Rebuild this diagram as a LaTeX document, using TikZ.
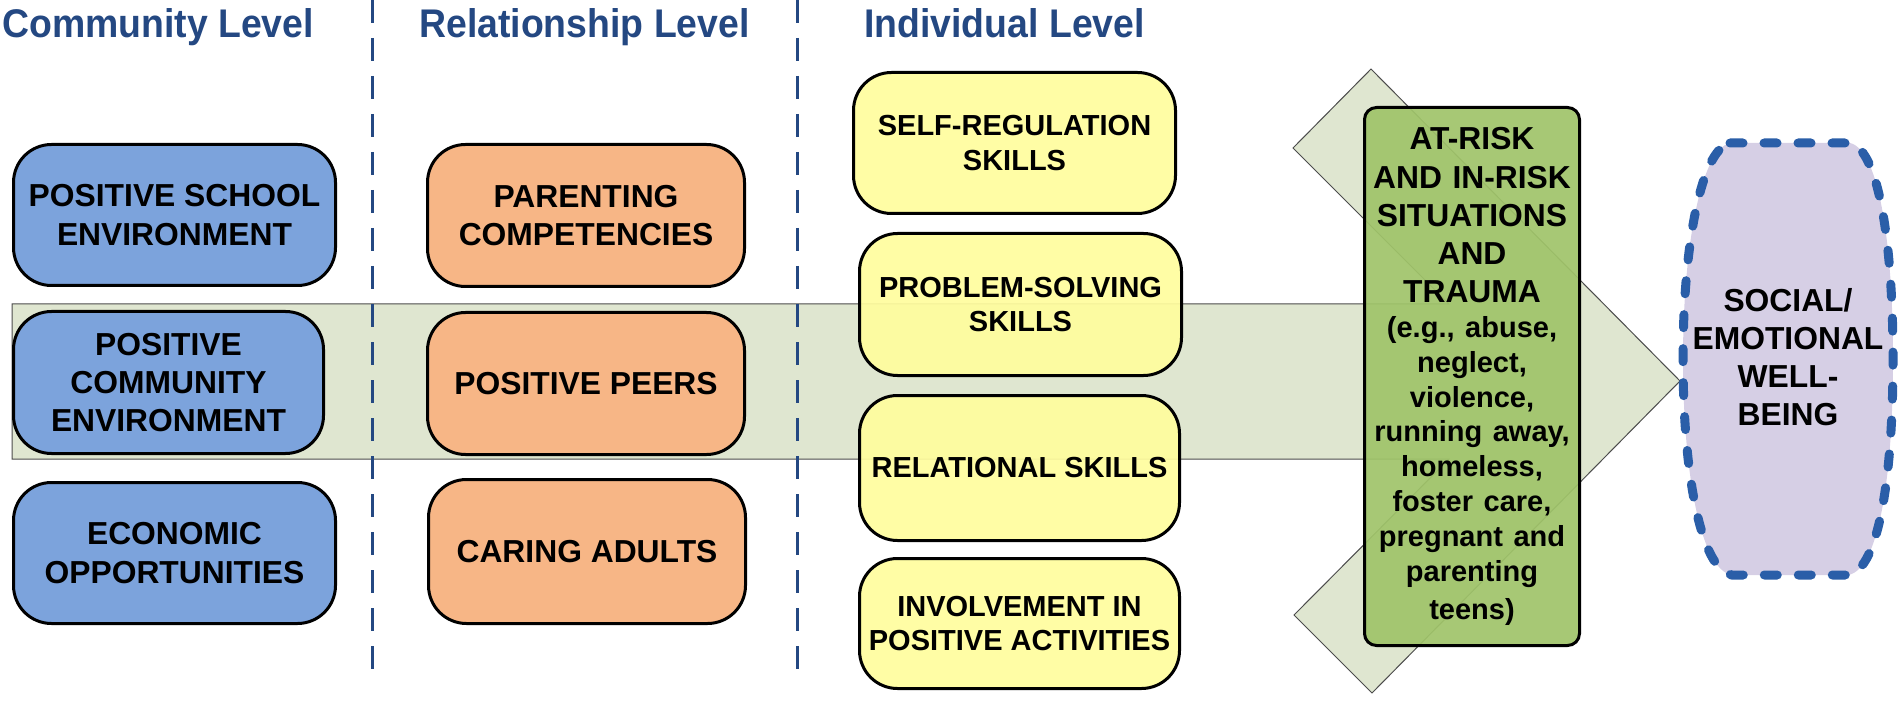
\documentclass[tikz,border=0pt]{standalone}
\usepackage{fontspec}
\setmainfont{Liberation Sans}
\newfontfamily\titlefont[FakeStretch=0.935]{Liberation Sans}
\usetikzlibrary{positioning}

\definecolor{titleblue}{RGB}{36,72,130}
\definecolor{commblue}{RGB}{124,163,220}
\definecolor{relorange}{RGB}{247,182,134}
\definecolor{indyellow}{RGB}{255,253,158}
\definecolor{riskgreen}{RGB}{160,196,106}
\definecolor{shaftgreen}{RGB}{223,230,208}
\definecolor{wellpurple}{RGB}{214,207,229}
\definecolor{wellblue}{RGB}{42,94,168}

\newcommand{\bigboxfont}{\bfseries\fontsize{31.8}{38.2}\selectfont}
\newcommand{\smallboxfont}{\bfseries\fontsize{29}{34.8}\selectfont}

\begin{document}
\begin{tikzpicture}[x=1pt, y=-1pt,
    levelbox/.style={draw=black, line width=3pt, rounded corners=38pt, align=center, inner sep=0pt},
    commbox/.style={levelbox, fill=commblue, font=\bigboxfont},
    relbox/.style={levelbox, fill=relorange, font=\bigboxfont},
    indbox/.style={levelbox, fill=indyellow, fill opacity=0.93, text opacity=1, font=\smallboxfont},
    riskbox/.style={levelbox, rounded corners=12pt, fill=riskgreen, fill opacity=0.93, text opacity=1, font=\bigboxfont},
    leveltitle/.style={anchor=base west, inner sep=0pt, text=titleblue, font=\titlefont\bfseries\fontsize{40}{40}\selectfont},
    divider/.style={titleblue, line width=3pt, dash pattern=on 23pt off 15pt}]
    \useasboundingbox (0,0) rectangle (1898,703);

    % Big arrow behind everything
    \draw[draw=black!70, fill=shaftgreen, line width=1pt] (12,304) -- (1449,304) -- (1293,148) -- (1371,69)
        -- (1680,381) -- (1372,693) -- (1294,615) -- (1449,459) -- (12,459) -- cycle;

    % Community level
    \node[commbox, minimum width=322pt, minimum height=141pt] (comm1) at (174.5,215) {POSITIVE SCHOOL\\ENVIRONMENT};
    \node[commbox, minimum width=310pt, minimum height=142pt] (comm2) at (168.5,382.5) {POSITIVE\\COMMUNITY\\ENVIRONMENT};
    \node[commbox, minimum width=322pt, minimum height=141pt] (comm3) at (174.5,553) {ECONOMIC\\OPPORTUNITIES};

    % Relationship level
    \node[relbox, minimum width=317pt, minimum height=142pt] (rel1) at (586,215.5) {PARENTING\\COMPETENCIES};
    \node[relbox, minimum width=317pt, minimum height=142pt] (rel2) at (586,383.5) {POSITIVE PEERS};
    \node[relbox, minimum width=317pt, minimum height=144pt] (rel3) at (587,551.5) {CARING ADULTS};

    % Individual level
    \node[indbox, minimum width=322pt, minimum height=141pt] (ind1) at (1014.5,143) {SELF-REGULATION\\SKILLS};
    \node[indbox, minimum width=322pt, minimum height=142pt] (ind2) at (1020.5,304.5) {PROBLEM-SOLVING\\SKILLS};
    \node[indbox, minimum width=320pt, minimum height=145pt] (ind3) at (1019.5,468) {RELATIONAL SKILLS};
    \node[indbox, minimum width=320pt, minimum height=130pt] (ind4) at (1019.5,623.5) {INVOLVEMENT IN\\POSITIVE ACTIVITIES};

    % Dashed dividers between the levels
    \foreach \x in {372,797} {
        \draw[divider] (\x,0) -- (\x,672);
    }

    % Risk box on the arrow head
    \node[riskbox, minimum width=215pt, minimum height=538pt, text width=209pt] (risk) at (1472,376.5)
        {AT-RISK\\AND IN-RISK\\SITUATIONS\\AND\\TRAUMA\par
         \smallboxfont (e.g., abuse,\\neglect,\\violence,\\running away,\\homeless,\\foster care,\\pregnant and\\parenting\\teens)};

    % Outcome
    \draw[wellblue, fill=wellpurple, line width=9pt, dash pattern=on 13pt off 21pt, line cap=round]
        (1730,143) -- (1850,143) .. controls (1880,150) and (1893,250) .. (1893,359)
        .. controls (1893,470) and (1880,570) .. (1848,575) -- (1732,575)
        .. controls (1700,570) and (1683,470) .. (1683,359)
        .. controls (1683,250) and (1700,150) .. (1730,143) -- cycle;
    \node[font=\bigboxfont, align=center, inner sep=0pt] (wellbeing) at (1788,357) {SOCIAL/\\EMOTIONAL\\WELL-\\BEING};

    % Level titles
    \node[leveltitle] (tcomm) at (2,38) {Community Level};
    \node[leveltitle] (trel) at (419,38) {Relationship Level};
    \node[leveltitle] (tind) at (864,38) {Individual Level};
\end{tikzpicture}
\end{document}
